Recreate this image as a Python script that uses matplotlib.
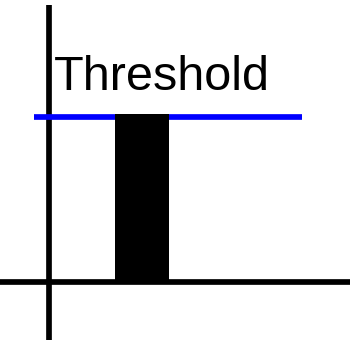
import matplotlib
matplotlib.use("Agg")
import matplotlib.pyplot as plt

# data
bar_x = [1.0]
bar_height = [10.0]
threshold = 9.85
label = "Threshold"

# pixel scale of the picture: origin at (48.5, 282), 94 px per x unit, 16.8 px per y unit
W, H = 356, 347
ox, oy = 48.5, 282
sx, sy = 94.0, 16.8

fig = plt.figure(figsize=(W / 100, H / 100), dpi=100)
ax = fig.add_axes([0, 0, 1, 1])
ax.set_xlim(-ox / sx, (W - ox) / sx)
ax.set_ylim(-(H - oy) / sy, oy / sy)
ax.axis("off")

lw = 4.1
# axes lines
ax.plot([-ox / sx, (350 - ox) / sx], [0, 0], color="black", lw=lw, solid_capstyle="butt", zorder=1)
ax.plot([0, 0], [-(340 - oy) / sy, (oy - 5) / sy], color="black", lw=lw, solid_capstyle="butt", zorder=1)

# threshold line
ax.plot([(34 - ox) / sx, (302 - ox) / sx], [threshold, threshold], color="#0000ff", lw=lw,
        solid_capstyle="butt", zorder=2)

# the bar
ax.bar(bar_x, bar_height, width=54 / sx, color="black", linewidth=0, zorder=3)

ax.text((54 - ox) / sx, (oy - 90) / sy, label, fontsize=35, family="Liberation Sans",
        va="baseline", ha="left", color="black")

fig.savefig("out.png", dpi=100)
